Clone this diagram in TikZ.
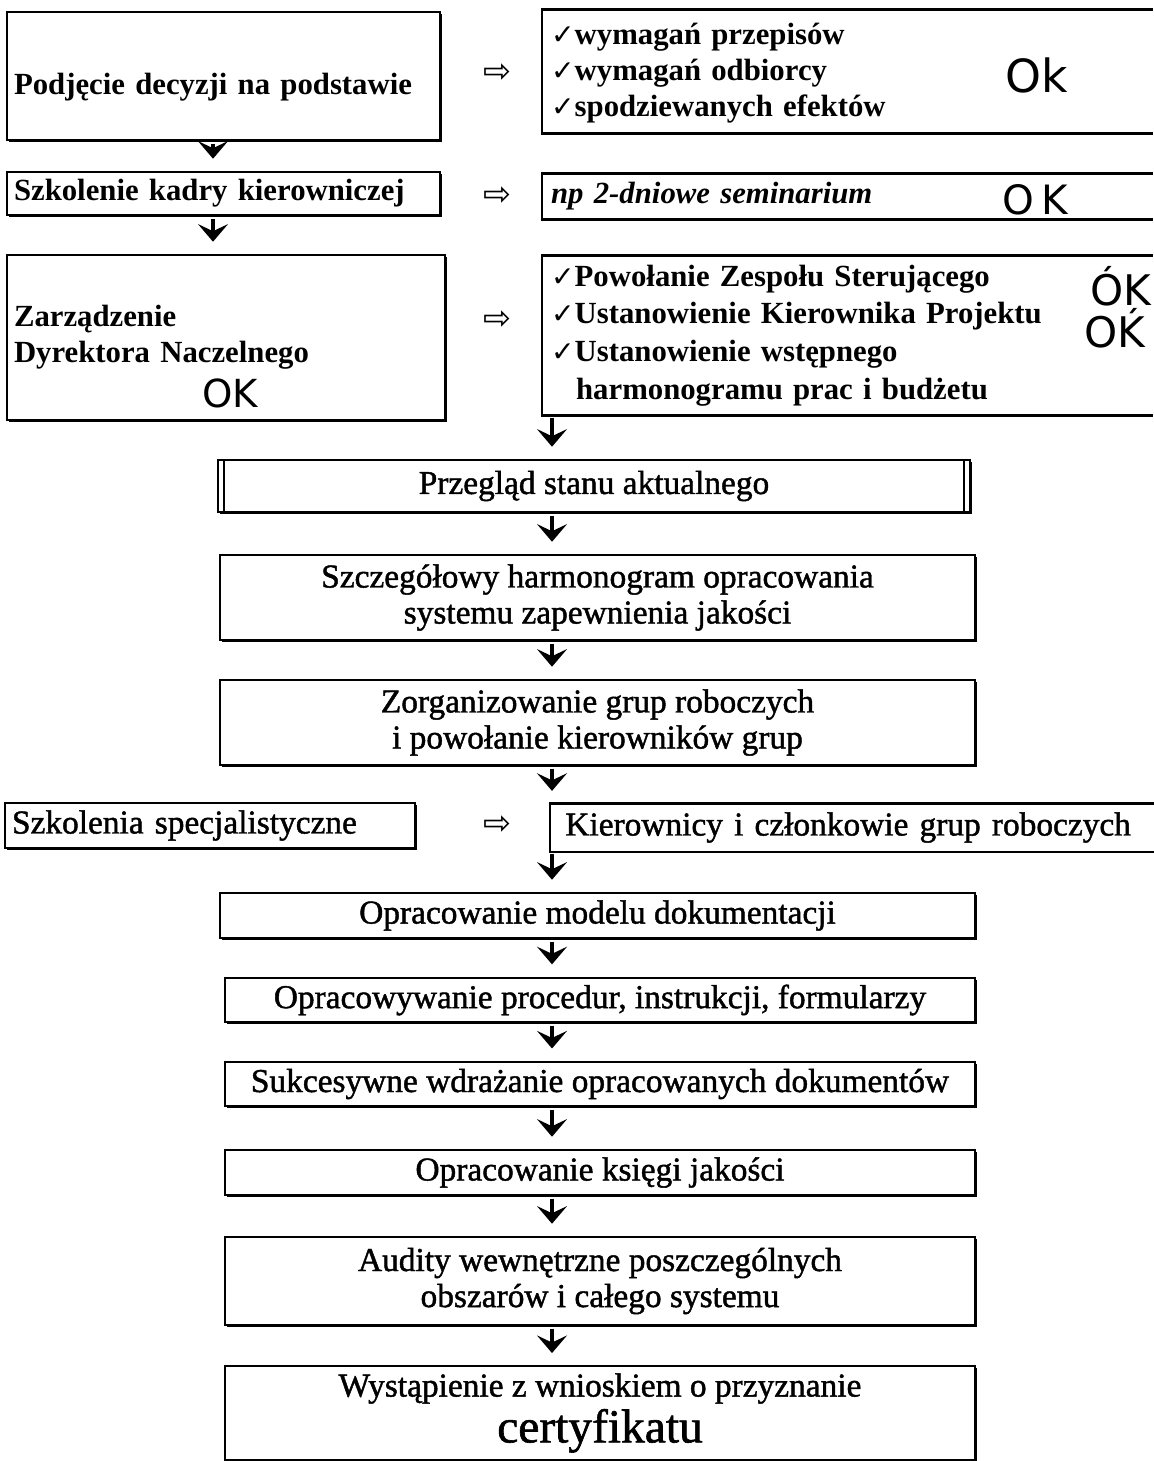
\documentclass[tikz,border=0pt]{standalone}
\usepackage{fontspec}
\setmainfont{Liberation Serif}
\newfontfamily\druk{Liberation Serif}[FakeBold=1.3]
\newfontfamily\symfont{DejaVu Sans}
\newfontfamily\handfont{DejaVu Sans}
\usepackage{tikz}
\usetikzlibrary{positioning}
\usetikzlibrary{calc}
\usetikzlibrary{arrows.meta}
\usetikzlibrary{shadows}
\tikzset{box/.style={draw, fill=white, line width=1.1pt, inner sep=4pt, drop shadow={shadow xshift=1.1pt, shadow yshift=-1.1pt, fill=black, opacity=1}},
mbox/.style={box, font=\druk\fontsize{19}{20.5}\selectfont, align=center, minimum width=15.1cm},
lbox/.style={box, font=\bfseries\fontsize{17.5}{20.5}\selectfont, align=left},
rbox/.style={inner sep=5pt, anchor=west, text width=11.85cm, font=\bfseries\fontsize{17.5}{20.5}\selectfont, align=left},
openbox/.style={line width=1.5pt},
down/.style={line width=2.3pt, -{Stealth[length=10pt,width=17pt,inset=4pt]}, shorten <=1.5pt, shorten >=7pt},
hand/.style={font=\handfont\fontsize{26}{26}\selectfont}}
\newcommand\ptaszek{{\symfont\fontsize{16}{16}\selectfont ✓}}
\newcommand\prawo{{\symfont\fontsize{19}{19}\selectfont ⇨}}

\begin{document}
\begin{tikzpicture}
\useasboundingbox (0,0) rectangle (23.06,-29.22);

\node (podj) [lbox, text width=8.38cm, minimum height=2.56cm] at (4.47,-1.52) {\\[4pt]Podjęcie decyzji na podstawie};
\node (podjR) [rbox, minimum height=2.46cm] at (10.84,-1.43) {\\[-6pt]\ptaszek wymagań przepisów\\\ptaszek wymagań odbiorcy\\\ptaszek spodziewanych efektów};
\draw[openbox] (podjR.north east) -- (podjR.north west) -- (podjR.south west) -- (podjR.south east);
\node (pr1) at (9.95,-1.46) {\prawo};
\node (ok1) [hand] at (20.74,-1.5) {Ok};

\node (szk) [lbox, text width=8.38cm, minimum height=0.86cm] at (4.47,-3.87) {Szkolenie kadry kierowniczej};
\node (szkR) [rbox, minimum height=0.74cm, font=\bfseries\itshape\fontsize{17.5}{20.5}\selectfont] at (10.84,-3.93) {np 2-dniowe seminarium};
\draw[openbox] (szkR.north east) -- (szkR.north west) -- (szkR.south west) -- (szkR.south east);
\node (pr2) at (9.95,-3.92) {\prawo};
\node (ok2) [hand, font=\handfont\fontsize{23}{23}\selectfont] at (20.7,-4.0) {O\,K};

\node (zarz) [lbox, text width=8.48cm, minimum height=3.3cm] at (4.52,-6.75) {Zarządzenie\\Dyrektora Naczelnego\\[1.1cm]};
\node (zarzR) [rbox, minimum height=3.1cm, font=\bfseries\fontsize{17.5}{21.5}\selectfont] at (10.84,-6.71) {\ptaszek Powołanie Zespołu Sterującego\\\ptaszek Ustanowienie Kierownika Projektu\\\ptaszek Ustanowienie wstępnego\\\hspace*{0.5cm}harmonogramu prac i budżetu};
\draw[openbox] (zarzR.north east) -- (zarzR.north west) -- (zarzR.south west) -- (zarzR.south east);
\node (pr3) at (9.95,-6.4) {\prawo};
\node (ok3) [hand, font=\handfont\fontsize{24}{24}\selectfont] at (22.42,-5.72) {ÓK};
\node (ok4) [hand, font=\handfont\fontsize{24}{24}\selectfont] at (22.3,-6.56) {OḰ};
\node (ok5) [hand, font=\handfont\fontsize{22}{22}\selectfont] at (4.6,-7.86) {OK};

\node (przeg) [mbox, minimum width=15.04cm, minimum height=1.04cm] at (11.88,-9.72) {Przegląd stanu aktualnego};
\draw[line width=1.1pt] ([xshift=4pt]przeg.north west) -- ([xshift=4pt]przeg.south west);
\draw[line width=1.1pt] ([xshift=-4pt]przeg.north east) -- ([xshift=-4pt]przeg.south east);
\node (harm) [mbox, minimum height=1.7cm] at (11.95,-11.95) {Szczegółowy harmonogram opracowania\\systemu zapewnienia jakości};
\node (grupy) [mbox, minimum height=1.7cm] at (11.95,-14.45) {Zorganizowanie grup roboczych\\i powołanie kierowników grup};

\node (spec) [box, font=\druk\fontsize{19}{20.5}\selectfont, text width=7.92cm, minimum height=0.9cm] at (4.2,-16.51) {Szkolenia specjalistyczne};
\node (kier) [rbox, font=\druk\fontsize{19}{20.5}\selectfont, inner xsep=0.3cm, text width=11.46cm, minimum height=0.9cm] at (11.0,-16.55) {Kierownicy i członkowie grup roboczych};
\draw[openbox] (kier.north east) -- (kier.north west) -- (kier.south west) -- (kier.south east);
\node (pr4) at (9.95,-16.5) {\prawo};

\node (model) [mbox, minimum height=0.9cm] at (11.95,-18.31) {Opracowanie modelu dokumentacji};
\node (proc) [mbox, minimum width=15cm, minimum height=0.8cm] at (12.0,-20.0) {Opracowywanie procedur, instrukcji, formularzy};
\node (wdr) [mbox, minimum width=15cm, minimum height=0.84cm] at (12.0,-21.68) {Sukcesywne wdrażanie opracowanych dokumentów};
\node (ksiega) [mbox, minimum width=15cm, minimum height=0.9cm] at (12.0,-23.45) {Opracowanie księgi jakości};
\node (audyt) [mbox, minimum width=15cm, minimum height=1.76cm] at (12.0,-25.62) {Audity wewnętrzne poszczególnych\\obszarów i całego systemu};
\node (wniosek) [mbox, minimum width=15cm, minimum height=1.8cm] at (12.0,-28.26) {Wystąpienie z wnioskiem o przyznanie\\[2pt]{\fontsize{27}{30}\selectfont certyfikatu}};

\coordinate (kolL) at (4.26,0);
\coordinate (kolM) at (11.04,0);
\draw[down] (podj.south -| kolL) -- (szk.north -| kolL);
\draw[down] (szk.south -| kolL) -- (zarz.north -| kolL);
\draw[down] (zarzR.south -| kolM) -- (przeg.north -| kolM);
\draw[down] (przeg.south -| kolM) -- (harm.north -| kolM);
\draw[down] (harm.south -| kolM) -- (grupy.north -| kolM);
\draw[down] (grupy.south -| kolM) -- (kier.north -| kolM);
\draw[down] (kier.south -| kolM) -- (model.north -| kolM);
\draw[down] (model.south -| kolM) -- (proc.north -| kolM);
\draw[down] (proc.south -| kolM) -- (wdr.north -| kolM);
\draw[down] (wdr.south -| kolM) -- (ksiega.north -| kolM);
\draw[down] (ksiega.south -| kolM) -- (audyt.north -| kolM);
\draw[down] (audyt.south -| kolM) -- (wniosek.north -| kolM);
\end{tikzpicture}
\end{document}
